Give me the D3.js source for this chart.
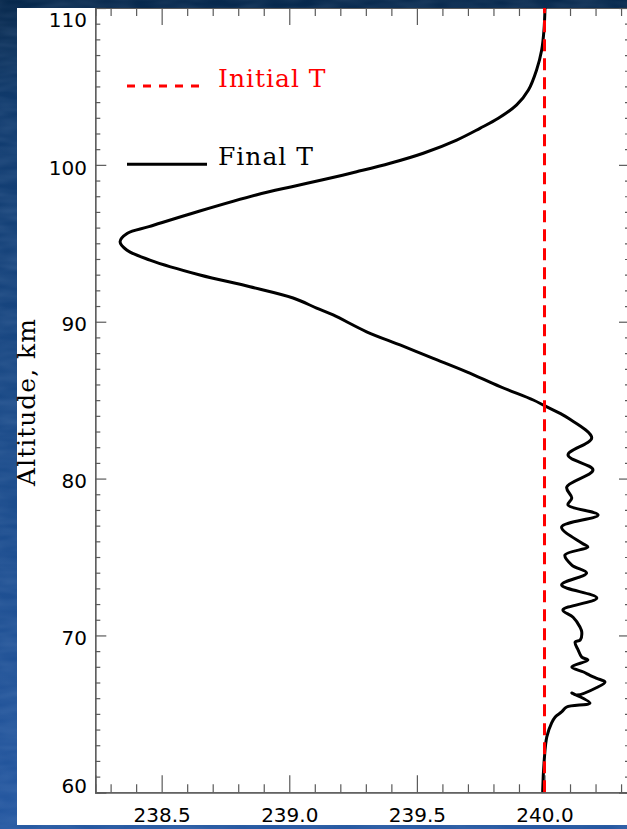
<!DOCTYPE html>
<html>
<head>
<meta charset="utf-8">
<script src="https://cdn.jsdelivr.net/npm/d3@7"></script>
<style>
  html, body { margin: 0; padding: 0; background: #123f75; }
  svg { display: block; }
</style>
</head>
<body>
<svg id="chart" width="627" height="829"></svg>
<script>
// Final temperature profile (K) against altitude (km)
const altitude = [110.0, 108.60, 107.32, 106.05, 104.77, 103.82, 102.97, 102.33, 101.58, 100.74,
  100.10, 99.56, 99.03, 98.61, 98.08, 97.01, 96.06, 95.64, 95.10, 94.57,
  93.93, 92.98, 92.23, 91.51, 90.87, 90.43, 89.36, 88.52, 87.67, 86.81,
  85.86, 85.01, 84.63, 84.16, 83.86, 82.59, 81.50, 80.55, 79.46, 78.76,
  78.32, 77.68, 76.91, 75.89, 75.64, 75.13, 74.49, 73.98, 73.22, 72.39,
  71.62, 71.16, 70.54, 70.22, 69.71, 69.58, 69.07, 68.62, 68.43, 67.99,
  67.67, 67.46, 67.26, 67.03, 66.68, 66.20, 66.33, 65.69, 65.44, 65.12,
  64.80, 64.42, 63.53, 62.06, 60.15, 60.0];
const finalT = [240.002, 239.998, 239.989, 239.969, 239.937, 239.891, 239.819, 239.747, 239.656, 239.525,
  239.395, 239.264, 239.127, 239.010, 238.870, 238.640, 238.450, 238.366, 238.337, 238.363,
  238.454, 238.650, 238.846, 239.015, 239.107, 239.172, 239.303, 239.434, 239.564, 239.695,
  239.826, 239.956, 240.002, 240.061, 240.092, 240.185, 240.092, 240.190, 240.087, 240.107,
  240.092, 240.210, 240.067, 240.146, 240.170, 240.080, 240.107, 240.165, 240.067, 240.205,
  240.072, 240.112, 240.139, 240.146, 240.140, 240.120, 240.132, 240.146, 240.170, 240.107,
  240.153, 240.178, 240.205, 240.237, 240.205, 240.126, 240.107, 240.178, 240.087, 240.067,
  240.042, 240.028, 240.009, 239.999, 239.993, 239.993];

// Initial (uniform) temperature profile
const initialAlt = [60, 110];
const initialT = [240.0, 240.0];

const xMajorTicks = [238.5, 239.0, 239.5, 240.0];
const yMajorTicks = [60, 70, 80, 90, 100, 110];
const legendLabels = ["Initial T", "Final T"];
const axisTitle = "Altitude, km";

const svg = d3.select("#chart");
const W = 627, H = 829;

// slide background
const defs = svg.append("defs");
const bg = defs.append("linearGradient").attr("id", "bg").attr("x1", 0).attr("y1", 0).attr("x2", 0).attr("y2", 1);
bg.append("stop").attr("offset", "0").attr("stop-color", "#07284c");
bg.append("stop").attr("offset", "0.12").attr("stop-color", "#103a6c");
bg.append("stop").attr("offset", "0.5").attr("stop-color", "#1a4a88");
bg.append("stop").attr("offset", "1").attr("stop-color", "#2457a0");
const tex = defs.append("filter").attr("id", "tex");
tex.append("feTurbulence").attr("type", "fractalNoise").attr("baseFrequency", "0.03 0.12").attr("numOctaves", 2).attr("seed", 4);
tex.append("feColorMatrix").attr("values", "0 0 0 0 0.55  0 0 0 0 0.7  0 0 0 0 0.95  0 0 0 0.35 -0.08");

svg.append("rect").attr("width", W).attr("height", H).attr("fill", "url(#bg)");
svg.append("rect").attr("width", W).attr("height", H).attr("filter", "url(#tex)").attr("opacity", 0.5);

// white panel
svg.append("rect").attr("x", 17).attr("y", 8).attr("width", W - 17).attr("height", 817).attr("fill", "#ffffff");

const pLeft = 95.3, pRight = 630, pTop = 8, pBottom = 792.3;
const x = d3.scaleLinear().domain([238.24, 240.335]).range([pLeft, pRight]);
const y = d3.scaleLinear().domain([60, 110]).range([pBottom, pTop]);

const xMinor = d3.range(238.3, 240.31, 0.1).map(v => +v.toFixed(1)).filter(v => !xMajorTicks.includes(v));
const yMinor = d3.range(60, 111, 1).filter(v => !yMajorTicks.includes(v));

const axisColor = "#5a5a5a";
function styleAxis(g) {
  g.select(".domain").attr("stroke", axisColor).attr("stroke-width", 1.2);
  g.selectAll(".tick line").attr("stroke", axisColor).attr("stroke-width", 1.2);
}

// minor ticks
svg.append("g").attr("transform", `translate(0,${pBottom})`)
  .call(d3.axisBottom(x).tickValues(xMinor).tickSize(-8).tickFormat("")).call(styleAxis);
svg.append("g").attr("transform", `translate(0,${pTop})`)
  .call(d3.axisTop(x).tickValues(xMinor).tickSize(-8).tickFormat("")).call(styleAxis);
svg.append("g").attr("transform", `translate(${pLeft},0)`)
  .call(d3.axisLeft(y).tickValues(yMinor).tickSize(-5).tickFormat("")).call(styleAxis);
svg.append("g").attr("transform", `translate(${pRight},0)`)
  .call(d3.axisRight(y).tickValues(yMinor).tickSize(-5).tickFormat("")).call(styleAxis);

// major ticks and labels
const xAxis = svg.append("g").attr("transform", `translate(0,${pBottom})`)
  .call(d3.axisBottom(x).tickValues(xMajorTicks).tickSize(-17).tickPadding(15.7).tickFormat(d3.format(".1f")))
  .call(styleAxis);
xAxis.selectAll("text").attr("font-family", "DejaVu Sans").attr("font-size", 20).attr("fill", "#000");
svg.append("g").attr("transform", `translate(0,${pTop})`)
  .call(d3.axisTop(x).tickValues(xMajorTicks).tickSize(-17).tickFormat("")).call(styleAxis);

const yAxis = svg.append("g").attr("transform", `translate(${pLeft},0)`)
  .call(d3.axisLeft(y).tickValues(yMajorTicks).tickSize(-11).tickPadding(8.3).tickFormat(d3.format("d")))
  .call(styleAxis);
yAxis.selectAll("text")
  .attr("font-family", "DejaVu Sans").attr("font-size", 20).attr("fill", "#000")
  .attr("dy", "0.36em")
  .attr("y", d => {
    const c = Math.max(19, Math.min(785, y(d) + 2));
    return c - y(d);
  });
svg.append("g").attr("transform", `translate(${pRight},0)`)
  .call(d3.axisRight(y).tickValues(yMajorTicks).tickSize(-11).tickFormat("")).call(styleAxis);

// axis title
svg.append("text")
  .attr("transform", "translate(35,402) rotate(-90)")
  .attr("text-anchor", "middle")
  .attr("font-family", "DejaVu Serif").attr("font-size", 25).attr("letter-spacing", 1)
  .attr("fill", "#000")
  .text(axisTitle);

// profiles
defs.append("clipPath").attr("id", "plotclip")
  .append("rect").attr("x", pLeft).attr("y", pTop).attr("width", pRight - pLeft).attr("height", pBottom - pTop);
const plot = svg.append("g").attr("clip-path", "url(#plotclip)");

const line = d3.line()
  .x(d => x(d[1]))
  .y(d => y(d[0]))
  .curve(d3.curveCatmullRom.alpha(0.5));

plot.append("path")
  .datum(altitude.map((a, i) => [a, finalT[i]]))
  .attr("d", line)
  .attr("fill", "none").attr("stroke", "#000").attr("stroke-width", 3)
  .attr("stroke-linejoin", "round");

plot.append("path")
  .datum(initialAlt.map((a, i) => [a, initialT[i]]))
  .attr("d", d3.line().x(d => x(d[1])).y(d => y(d[0])))
  .attr("fill", "none").attr("stroke", "#ff0000").attr("stroke-width", 3)
  .attr("stroke-dasharray", "12,7");

// legend
const legend = svg.append("g");
legend.append("line").attr("x1", 127).attr("x2", 205).attr("y1", 86).attr("y2", 86)
  .attr("stroke", "#ff0000").attr("stroke-width", 3).attr("stroke-dasharray", "8,8");
legend.append("text").attr("x", 218).attr("y", 87)
  .attr("font-family", "DejaVu Serif").attr("font-size", 25).attr("letter-spacing", 1)
  .attr("fill", "#ff0000").text(legendLabels[0]);
legend.append("line").attr("x1", 127).attr("x2", 207).attr("y1", 164.3).attr("y2", 164.3)
  .attr("stroke", "#000").attr("stroke-width", 3);
legend.append("text").attr("x", 218).attr("y", 165)
  .attr("font-family", "DejaVu Serif").attr("font-size", 25).attr("letter-spacing", 1)
  .attr("fill", "#000").text(legendLabels[1]);
</script>
</body>
</html>
